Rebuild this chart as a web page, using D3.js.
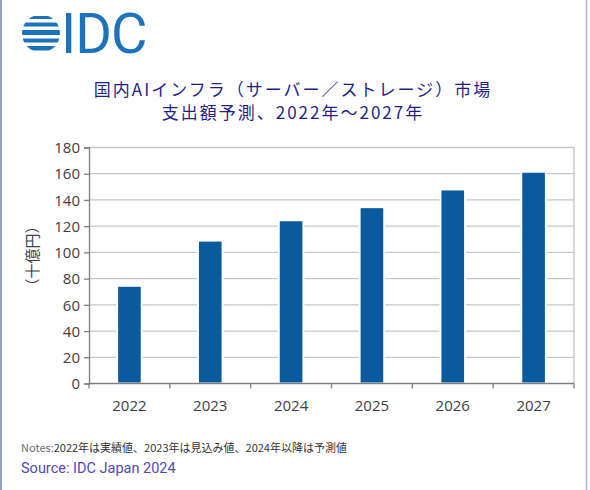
<!DOCTYPE html>
<html>
<head>
  <meta charset="utf-8">
  <script type="text/javascript" src="https://d3js.org/d3.v7.min.js"></script>
</head>
<body>
<style type="text/css">
  html,
  body {
    overflow: hidden;
    margin: 0px;
    width: 590px;
    height: 490px;
    background: #ffffff;
  }

  .grid-line {
    stroke: #c6c6c6;
    stroke-width: 1.3;
  }

  .data-bar {
    fill: #0a5aa0;
    stroke: #ffffff;
    stroke-width: 2;
  }

  .tick-label {
    font-family: "Open Sans", "Noto Sans", sans-serif;
    font-size: 15px;
    fill: #404040;
  }
</style>

<script>
"use strict";

// Chart data
const YEARS = ["2022", "2023", "2024", "2025", "2026", "2027"];
const SPENDING = [74.5, 109, 124.5, 134.5, 148, 161.5]; // 十億円
const Y_TICKS = [0, 20, 40, 60, 80, 100, 120, 140, 160, 180];
const TITLE_LINES = ["国内AIインフラ（サーバー／ストレージ）市場", "支出額予測、2022年～2027年"];
const Y_TITLE = "（十億円）";
const NOTE_LABEL = "Notes:";
const NOTE_TEXT = "2022年は実績値、2023年は見込み値、2024年以降は予測値";
const SOURCE_TEXT = "Source: IDC Japan 2024";

// Dimensions
const WIDTH = 590;
const HEIGHT = 490;
const PLOT_LEFT = 89;
const PLOT_RIGHT = 574;
const PLOT_TOP = 147.5;
const PLOT_BOTTOM = 383.5;

const SVG = d3.select("body")
  .append("svg")
  .attr("width", WIDTH)
  .attr("height", HEIGHT);

// Frame lines on the left and right edges
SVG.append("line")
  .attr("x1", 1).attr("x2", 1).attr("y1", 0).attr("y2", HEIGHT)
  .attr("stroke", "#8fa5c2").attr("stroke-width", 2);
SVG.append("line")
  .attr("x1", 586.5).attr("x2", 586.5).attr("y1", 0).attr("y2", HEIGHT)
  .attr("stroke", "#a9bacd").attr("stroke-width", 1.5);

/*************************************** Logo ***************************************/
const LOGO = SVG.append("g");
const LOGO_BLUE = "#1d72bd";
const defs = SVG.append("defs");
defs.append("clipPath").attr("id", "globe-clip")
  .append("circle").attr("cx", 41).attr("cy", 33.5).attr("r", 19);

const STRIPES = [[16, 19], [22.5, 26.5], [30, 35], [38.5, 42.5], [46, 50.5]];
LOGO.append("g")
  .attr("clip-path", "url(#globe-clip)")
  .selectAll("rect")
  .data(STRIPES)
  .enter()
  .append("rect")
  .attr("x", 20)
  .attr("width", 42)
  .attr("y", d => d[0])
  .attr("height", d => d[1] - d[0])
  .attr("fill", LOGO_BLUE);

LOGO.append("text")
  .attr("x", 61)
  .attr("y", 53)
  .attr("font-family", "Roboto, 'Open Sans', sans-serif")
  .attr("font-size", 56)
  .attr("font-weight", 400)
  .attr("letter-spacing", -1)
  .attr("fill", LOGO_BLUE)
  .text("IDC");

/*************************************** Title ***************************************/
SVG.selectAll(".title-line")
  .data(TITLE_LINES)
  .enter()
  .append("text")
  .classed("title-line", true)
  .attr("x", 293)
  .attr("y", (d, i) => 96 + i * 23)
  .attr("text-anchor", "middle")
  .attr("font-family", "'Noto Sans CJK JP', sans-serif")
  .attr("font-size", 17)
  .attr("letter-spacing", 2)
  .attr("fill", "#1f1f8a")
  .text(d => d);

/*************************************** Scales ***************************************/
const X_SCALE = d3.scaleBand()
  .domain(YEARS)
  .range([PLOT_LEFT, PLOT_RIGHT])
  .paddingInner(0.72)
  .paddingOuter(0.36);

const Y_SCALE = d3.scaleLinear()
  .domain([0, 180])
  .range([PLOT_BOTTOM, PLOT_TOP]);

// Gridlines
SVG.append("g")
  .selectAll("line")
  .data(Y_TICKS.filter(d => d > 0))
  .enter()
  .append("line")
  .classed("grid-line", true)
  .attr("x1", PLOT_LEFT)
  .attr("x2", PLOT_RIGHT)
  .attr("y1", d => Y_SCALE(d))
  .attr("y2", d => Y_SCALE(d));

// Right plot border
SVG.append("line")
  .classed("grid-line", true)
  .attr("x1", PLOT_RIGHT).attr("x2", PLOT_RIGHT)
  .attr("y1", PLOT_TOP).attr("y2", PLOT_BOTTOM);

// Bars
SVG.append("g")
  .selectAll(".data-bar")
  .data(YEARS.map((y, i) => ({ year: y, value: SPENDING[i] })))
  .enter()
  .append("rect")
  .classed("data-bar", true)
  .attr("x", d => X_SCALE(d.year) - 1)
  .attr("y", d => Y_SCALE(d.value))
  .attr("width", X_SCALE.bandwidth() + 2)
  .attr("height", d => PLOT_BOTTOM - Y_SCALE(d.value));

// Y axis
const Y_AXIS = SVG.append("g")
  .attr("transform", "translate(" + PLOT_LEFT + ",0)")
  .call(d3.axisLeft(Y_SCALE).tickValues(Y_TICKS).tickSize(5).tickPadding(4));
Y_AXIS.select(".domain").attr("stroke", "#7f7f7f").attr("stroke-width", 1.3);
Y_AXIS.selectAll(".tick line").attr("stroke", "#7f7f7f").attr("stroke-width", 1.3);
Y_AXIS.selectAll(".tick text").attr("class", "tick-label").attr("dy", "0.35em");

// X axis: ticks between categories
const X_AXIS = SVG.append("g")
  .attr("transform", "translate(0," + PLOT_BOTTOM + ")");
X_AXIS.append("line")
  .attr("x1", PLOT_LEFT).attr("x2", PLOT_RIGHT)
  .attr("stroke", "#7f7f7f").attr("stroke-width", 1.3);
const STEP = X_SCALE.step();
X_AXIS.selectAll(".x-tick")
  .data(d3.range(YEARS.length + 1))
  .enter()
  .append("line")
  .attr("x1", i => PLOT_LEFT + i * STEP)
  .attr("x2", i => PLOT_LEFT + i * STEP)
  .attr("y1", 0).attr("y2", 5)
  .attr("stroke", "#7f7f7f").attr("stroke-width", 1.3);
X_AXIS.selectAll(".x-label")
  .data(YEARS)
  .enter()
  .append("text")
  .attr("class", "tick-label")
  .attr("x", d => X_SCALE(d) + X_SCALE.bandwidth() / 2)
  .attr("y", 27)
  .attr("text-anchor", "middle")
  .text(d => d);

// Y title
SVG.append("text")
  .attr("transform", "translate(38,256) rotate(-90)")
  .attr("text-anchor", "middle")
  .attr("font-family", "'Noto Sans CJK JP', sans-serif")
  .attr("font-size", 15)
  .attr("fill", "#404040")
  .text(Y_TITLE);

/*************************************** Notes / source ***************************************/
const NOTE = SVG.append("text")
  .attr("x", 21)
  .attr("y", 452)
  .attr("font-family", "'Noto Sans CJK JP', sans-serif")
  .attr("font-size", 11);
NOTE.append("tspan").attr("fill", "#6e6e6e").text(NOTE_LABEL);
NOTE.append("tspan").attr("fill", "#333333").text(NOTE_TEXT);

SVG.append("text")
  .attr("x", 21)
  .attr("y", 473)
  .attr("font-family", "Roboto, 'Noto Sans', sans-serif")
  .attr("font-size", 14.5)
  .attr("fill", "#5248b8")
  .text(SOURCE_TEXT);
</script>
</body>
</html>
